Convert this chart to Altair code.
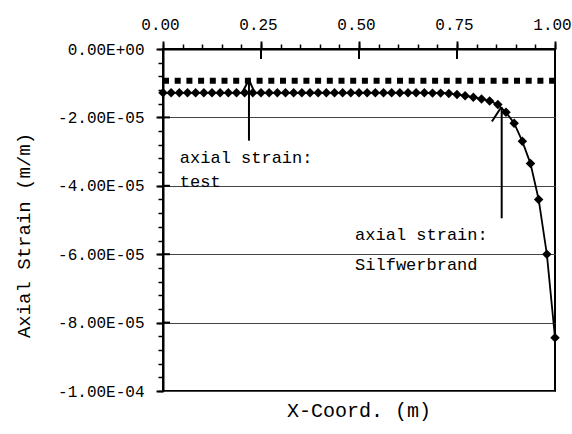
import altair as alt
import pandas as pd

# ---- axis ticks / labels ----
x_ticks = [0.0, 0.25, 0.5, 0.75, 1.0]
x_minor = [0.0, 0.05, 0.1, 0.15, 0.2, 0.25, 0.3, 0.35, 0.4, 0.45, 0.5,
           0.55, 0.6, 0.65, 0.7, 0.75, 0.8, 0.85, 0.9, 0.95, 1.0]
y_ticks = [0.0, -2e-5, -4e-5, -6e-5, -8e-5, -1e-4]
y_labels = ["0.00E+00", "-2.00E-05", "-4.00E-05", "-6.00E-05", "-8.00E-05", "-1.00E-04"]
y_minor = [0.0, -4e-6, -8e-6, -1.2e-5, -1.6e-5, -2e-5, -2.4e-5, -2.8e-5, -3.2e-5,
           -3.6e-5, -4e-5, -4.4e-5, -4.8e-5, -5.2e-5, -5.6e-5, -6e-5, -6.4e-5,
           -6.8e-5, -7.2e-5, -7.6e-5, -8e-5, -8.4e-5, -8.8e-5, -9.2e-5, -9.6e-5, -1e-4]

# ---- series ----
test_x = [0.0, 1.0]
test_y = [-9.3e-6, -9.3e-6]

silf_x = [0.0000, 0.0208, 0.0417, 0.0625, 0.0833, 0.1042, 0.1250, 0.1458, 0.1667,
          0.1875, 0.2083, 0.2292, 0.2500, 0.2708, 0.2917, 0.3125, 0.3333, 0.3542,
          0.3750, 0.3958, 0.4167, 0.4375, 0.4583, 0.4792, 0.5000, 0.5208, 0.5417,
          0.5625, 0.5833, 0.6042, 0.6250, 0.6458, 0.6667, 0.6875, 0.7083, 0.7292,
          0.7500, 0.7708, 0.7917, 0.8125, 0.8333, 0.8542, 0.8750, 0.8958, 0.9167,
          0.9375, 0.9583, 0.9792, 1.0000]
silf_y = [-1.28e-5, -1.28e-5, -1.28e-5, -1.28e-5, -1.28e-5, -1.28e-5, -1.28e-5,
          -1.28e-5, -1.28e-5, -1.28e-5, -1.28e-5, -1.28e-5, -1.28e-5, -1.28e-5,
          -1.28e-5, -1.28e-5, -1.28e-5, -1.28e-5, -1.28e-5, -1.28e-5, -1.28e-5,
          -1.28e-5, -1.28e-5, -1.28e-5, -1.28e-5, -1.28e-5, -1.28e-5, -1.28e-5,
          -1.28e-5, -1.28e-5, -1.28e-5, -1.28e-5, -1.28e-5, -1.29e-5, -1.29e-5,
          -1.30e-5, -1.33e-5, -1.37e-5, -1.41e-5, -1.46e-5, -1.52e-5, -1.62e-5,
          -1.85e-5, -2.17e-5, -2.70e-5, -3.35e-5, -4.40e-5, -6.00e-5, -8.44e-5]

# ---- annotations ----
arrow_seg = ["a1", "a1", "a1h", "a1h", "a1h", "a2", "a2", "a2h", "a2h"]
arrow_ord = [0, 1, 0, 1, 2, 0, 1, 0, 1]
arrow_x = [0.2193, 0.2193, 0.2008, 0.2193, 0.2347, 0.864, 0.864, 0.839, 0.862]
arrow_y = [-9.0e-6, -2.68e-5, -1.30e-5, -9.0e-6, -1.30e-5, -1.70e-5, -4.95e-5, -2.12e-5, -1.72e-5]

note_text = ["axial strain:", "test", "axial strain:", "Silfwerbrand"]
note_x = [0.043, 0.043, 0.49, 0.49]
note_y = [-3.34e-5, -4.03e-5, -5.58e-5, -6.46e-5]

FONT = "Liberation Mono"

xs = alt.Scale(domain=[0, 1], nice=False, zero=False)
ys = alt.Scale(domain=[-1e-4, 0], nice=False, zero=False)

test_df = pd.DataFrame({"x": test_x, "y": test_y})
silf_df = pd.DataFrame({"x": silf_x, "y": silf_y})
arrow_df = pd.DataFrame({"x": arrow_x, "y": arrow_y, "seg": arrow_seg, "o": arrow_ord})
note_df = pd.DataFrame({"x": note_x, "y": note_y, "t": note_text})
xin_df = pd.DataFrame({"v": x_ticks[1:-1]})
yin_df = pd.DataFrame({"v": y_ticks[1:-1]})

label_expr = "[" + ",".join("'" + s + "'" for s in y_labels) + "][round(-datum.value/0.00002)]"

test_layer = alt.Chart(test_df).mark_line(
    color="black", strokeWidth=6, strokeDash=[6, 5.7], strokeCap="butt"
).encode(
    x=alt.X("x:Q", scale=xs, axis=alt.Axis(
        orient="top", values=x_ticks, format=".2f", title=None, grid=False,
        tickSize=8, tickWidth=2, tickColor="black", domainColor="black", domainWidth=2,
        labelFont=FONT, labelFontSize=16, labelColor="black", labelPadding=9,
        labelFlush=False, labelOverlap=False, labelOffset=-3)),
    y=alt.Y("y:Q", scale=ys, axis=alt.Axis(
        orient="left", values=y_ticks, labelExpr=label_expr,
        title="Axial Strain (m/m)", titleFont=FONT, titleFontSize=19,
        titleFontWeight="normal", titleColor="black", titleX=-140, titleY=186,
        titleBaseline="middle", titleAngle=270,
        grid=True, gridColor="#444444", gridWidth=1,
        tickSize=7, tickWidth=2, tickColor="black", domainColor="black", domainWidth=2,
        labelFont=FONT, labelFontSize=16, labelColor="black", labelPadding=12,
        labelOverlap=False, labelFlush=False)),
)

silf_line = alt.Chart(silf_df).mark_line(color="black", strokeWidth=1.8).encode(
    x=alt.X("x:Q", scale=xs, axis=alt.Axis(
        orient="top", values=x_minor, labels=False, title=None, grid=False, domain=False,
        tickSize=5, tickWidth=1.5, tickColor="black")),
    y=alt.Y("y:Q", scale=ys, axis=alt.Axis(
        orient="left", values=y_minor, labels=False, title=None, grid=False, domain=False,
        tickSize=5, tickWidth=1.5, tickColor="black")),
)

silf_pts = alt.Chart(silf_df).mark_point(
    shape="diamond", filled=True, size=90, color="black", opacity=1
).encode(
    x=alt.X("x:Q", scale=xs, axis=None),
    y=alt.Y("y:Q", scale=ys, axis=None),
)

x_inner = alt.Chart(xin_df).mark_rule(color="black", strokeWidth=2).encode(
    x=alt.X("v:Q", scale=xs, axis=None), y=alt.value(0), y2=alt.value(10)
)
y_inner = alt.Chart(yin_df).mark_rule(color="black", strokeWidth=2).encode(
    y=alt.Y("v:Q", scale=ys, axis=None), x=alt.value(0), x2=alt.value(7)
)

arrows = alt.Chart(arrow_df).mark_line(color="black", strokeWidth=2).encode(
    x=alt.X("x:Q", scale=xs, axis=None),
    y=alt.Y("y:Q", scale=ys, axis=None),
    detail="seg:N",
    order="o:Q",
)

notes = alt.Chart(note_df).mark_text(
    align="left", baseline="alphabetic", font=FONT, fontSize=17, color="black"
).encode(
    x=alt.X("x:Q", scale=xs, axis=None),
    y=alt.Y("y:Q", scale=ys, axis=None),
    text="t:N",
)

chart = alt.layer(
    test_layer, silf_line, silf_pts, x_inner, y_inner, arrows, notes
).resolve_axis(
    x="independent", y="independent"
).properties(
    width=392,
    height=342,
    autosize=alt.AutoSizeParams(type="none"),
    padding={"left": 163, "top": 49, "right": 17, "bottom": 43},
    background="white",
    title=alt.TitleParams(
        "X-Coord. (m)", orient="bottom", anchor="middle", font=FONT, fontSize=20,
        fontWeight="normal", color="black", offset=2),
).configure_view(
    stroke="black", strokeWidth=2
)

chart.save("out.html", embed_options={"renderer": "svg", "actions": False})
